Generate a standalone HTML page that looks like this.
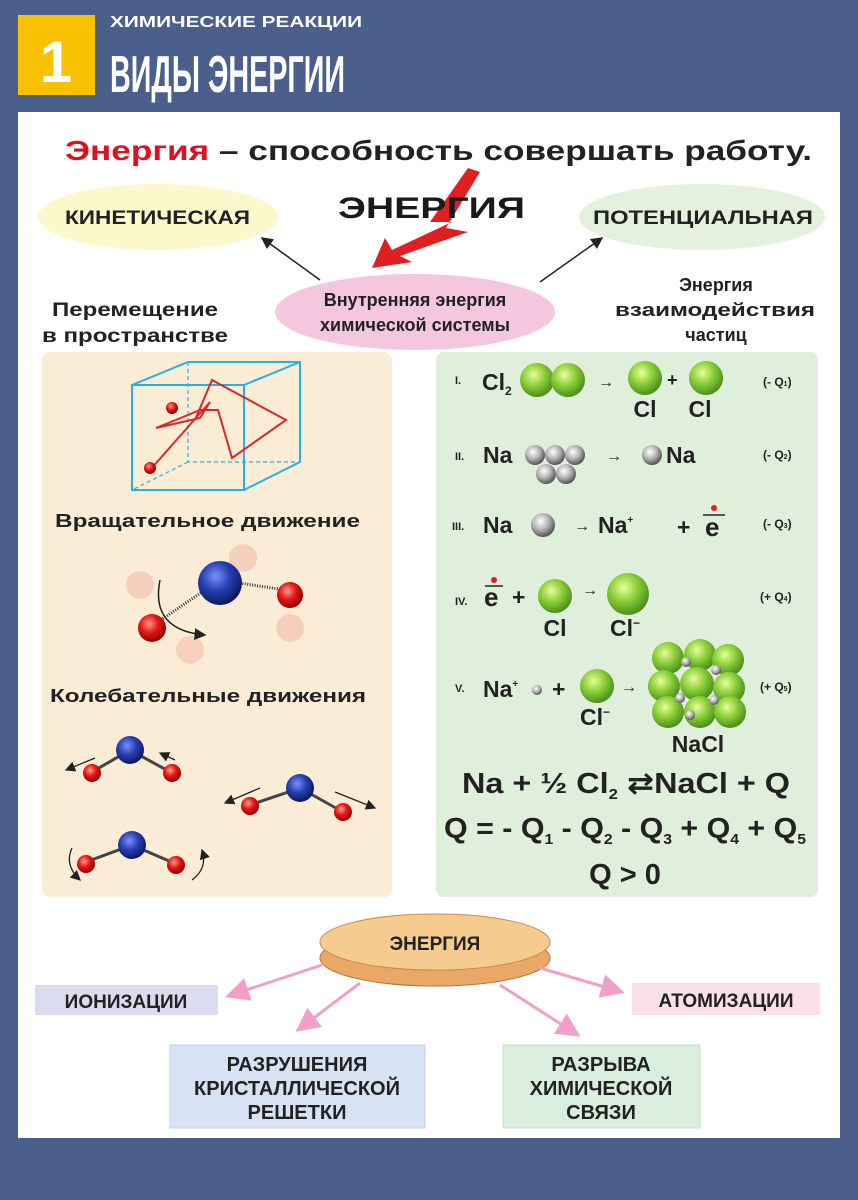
<!DOCTYPE html>
<html><head><meta charset="utf-8"><style>
html,body{margin:0;padding:0;background:#4a5f8c}
svg{display:block}
text{font-family:"Liberation Sans","DejaVu Sans",sans-serif;font-weight:bold;fill:#222}
</style></head><body>
<svg width="858" height="1200" viewBox="0 0 858 1200" xmlns="http://www.w3.org/2000/svg">
<defs>
<radialGradient id="g" cx="40%" cy="35%" r="65%"><stop offset="0" stop-color="#e8ff9a"/><stop offset="0.5" stop-color="#8ccf3a"/><stop offset="1" stop-color="#4c8f1c"/></radialGradient>
<radialGradient id="s" cx="40%" cy="35%" r="65%"><stop offset="0" stop-color="#ffffff"/><stop offset="0.5" stop-color="#b8b8b8"/><stop offset="1" stop-color="#555"/></radialGradient>
<radialGradient id="r" cx="40%" cy="35%" r="65%"><stop offset="0" stop-color="#ff9a8a"/><stop offset="0.5" stop-color="#e01818"/><stop offset="1" stop-color="#900"/></radialGradient>
<radialGradient id="b" cx="40%" cy="35%" r="65%"><stop offset="0" stop-color="#7a90ff"/><stop offset="0.5" stop-color="#2840b0"/><stop offset="1" stop-color="#0c1a60"/></radialGradient>
<marker id="ah" markerWidth="8" markerHeight="8" refX="7" refY="4" orient="auto"><path d="M0,0 L8,4 L0,8 z" fill="#222"/></marker>
<marker id="ap" markerWidth="8" markerHeight="8" refX="7" refY="4" orient="auto"><path d="M0,0 L8,4 L0,8 z" fill="#f0a0c8"/></marker>
</defs>
<rect width="858" height="1200" fill="#4a5f8c"/>
<rect x="18" y="15" width="77" height="80" fill="#f8c200"/>
<text x="56" y="82" text-anchor="middle" font-size="58" style="fill:#fff">1</text>
<text x="110" y="27" font-size="16" style="fill:#fff" textLength="252" lengthAdjust="spacingAndGlyphs">ХИМИЧЕСКИЕ РЕАКЦИИ</text>
<text x="110" y="92" font-size="52" style="fill:#fff" textLength="235" lengthAdjust="spacingAndGlyphs">ВИДЫ ЭНЕРГИИ</text>
<rect x="18" y="112" width="822" height="1026" fill="#fff"/>
<text x="65" y="160" font-size="28" textLength="747" lengthAdjust="spacingAndGlyphs"><tspan style="fill:#e01020">Энергия</tspan> – способность совершать работу.</text>
<ellipse cx="158" cy="217" rx="120" ry="33" fill="#fbf8cc"/>
<text x="65" y="224" font-size="19" textLength="185" lengthAdjust="spacingAndGlyphs">КИНЕТИЧЕСКАЯ</text>
<ellipse cx="702" cy="217" rx="123" ry="33" fill="#e4f1dc"/>
<text x="593" y="224" font-size="19" textLength="220" lengthAdjust="spacingAndGlyphs">ПОТЕНЦИАЛЬНАЯ</text>
<polygon points="468,168 430,222 452,222 392,250 385,238 372,268 412,262 400,256 468,232 446,228 480,172" fill="#e02020"/>
<text x="338" y="218" font-size="30" style="fill:#1a1a1a" textLength="187" lengthAdjust="spacingAndGlyphs">ЭНЕРГИЯ</text>
<line x1="320" y1="280" x2="262" y2="238" stroke="#222" stroke-width="1.5" marker-end="url(#ah)"/>
<line x1="540" y1="282" x2="602" y2="238" stroke="#222" stroke-width="1.5" marker-end="url(#ah)"/>
<ellipse cx="415" cy="312" rx="140" ry="38" fill="#f4c7de"/>
<text x="415" y="306" text-anchor="middle" font-size="18">Внутренняя энергия</text>
<text x="415" y="331" text-anchor="middle" font-size="18">химической системы</text>
<text x="52" y="316" font-size="19" textLength="166" lengthAdjust="spacingAndGlyphs">Перемещение</text>
<text x="42" y="342" font-size="19" textLength="186" lengthAdjust="spacingAndGlyphs">в пространстве</text>
<text x="716" y="291" text-anchor="middle" font-size="18">Энергия</text>
<text x="615" y="316" font-size="18" textLength="200" lengthAdjust="spacingAndGlyphs">взаимодействия</text>
<text x="716" y="341" text-anchor="middle" font-size="18">частиц</text>
<rect x="42" y="352" width="350" height="545" rx="8" fill="#fbecd6"/>
<rect x="436" y="352" width="382" height="545" rx="8" fill="#e0eedc"/>
<g fill="none" stroke="#28b0e0" stroke-width="2">
<rect x="132" y="385" width="112" height="105"/>
<polyline points="132,385 188,362 300,362 300,462 244,490"/>
<line x1="244" y1="385" x2="300" y2="362"/>
<g stroke-dasharray="4 3" stroke-width="1.2"><polyline points="188,362 188,462 300,462"/><line x1="188" y1="462" x2="132" y2="490"/></g>
</g>
<polyline points="150,470 210,402 200,418 156,428 188,415 200,410 218,410 232,458 286,420 212,380 195,420" fill="none" stroke="#d82828" stroke-width="2"/>
<circle cx="172" cy="408" r="6" fill="url(#r)"/><circle cx="150" cy="468" r="6" fill="url(#r)"/>
<text x="55" y="527" font-size="18" textLength="305" lengthAdjust="spacingAndGlyphs">Вращательное движение</text>
<g opacity="0.15"><circle cx="243" cy="558" r="14" fill="#e03030"/><circle cx="140" cy="585" r="14" fill="#e03030"/><circle cx="290" cy="628" r="14" fill="#e03030"/><circle cx="190" cy="650" r="14" fill="#e03030"/></g>
<line x1="220" y1="580" x2="285" y2="590" stroke="#333" stroke-width="3" stroke-dasharray="1 1.5"/>
<line x1="205" y1="590" x2="158" y2="622" stroke="#333" stroke-width="3" stroke-dasharray="1 1.5"/>
<path d="M160,580 Q150,630 205,635" fill="none" stroke="#222" stroke-width="1.5" marker-end="url(#ah)"/>
<circle cx="220" cy="583" r="22" fill="url(#b)"/>
<circle cx="290" cy="595" r="13" fill="url(#r)"/>
<circle cx="152" cy="628" r="14" fill="url(#r)"/>
<text x="50" y="702" font-size="18" textLength="316" lengthAdjust="spacingAndGlyphs">Колебательные движения</text>
<g stroke="#444" stroke-width="3">
<line x1="130" y1="750" x2="92" y2="772"/><line x1="130" y1="750" x2="172" y2="773"/>
<line x1="300" y1="788" x2="250" y2="805"/><line x1="300" y1="788" x2="343" y2="812"/>
<line x1="132" y1="845" x2="86" y2="862"/><line x1="132" y1="845" x2="176" y2="864"/>
</g>
<g fill="url(#b)"><circle cx="130" cy="750" r="14"/><circle cx="300" cy="788" r="14"/><circle cx="132" cy="845" r="14"/></g>
<g fill="url(#r)"><circle cx="92" cy="773" r="9"/><circle cx="172" cy="773" r="9"/><circle cx="250" cy="806" r="9"/><circle cx="343" cy="812" r="9"/><circle cx="86" cy="864" r="9"/><circle cx="176" cy="865" r="9"/></g>
<g stroke="#222" stroke-width="1.3" fill="none" marker-end="url(#ah)">
<line x1="95" y1="758" x2="66" y2="770"/><line x1="175" y1="760" x2="160" y2="753"/>
<line x1="260" y1="788" x2="225" y2="803"/><line x1="335" y1="792" x2="375" y2="808"/>
<path d="M72,848 Q64,865 80,880"/><path d="M192,880 Q208,868 202,850"/>
</g>
<g font-size="23">
<text x="455" y="384" font-size="11">I.</text>
<text x="482" y="390">Cl<tspan font-size="12" dy="5">2</tspan></text>
<circle cx="537" cy="380" r="17" fill="url(#g)"/><circle cx="568" cy="380" r="17" fill="url(#g)"/>
<text x="598" y="387" font-size="16">→</text>
<circle cx="645" cy="378" r="17" fill="url(#g)"/><text x="667" y="386" font-size="18">+</text><circle cx="706" cy="378" r="17" fill="url(#g)"/>
<text x="645" y="417" text-anchor="middle">Cl</text><text x="700" y="417" text-anchor="middle">Cl</text>
<text x="763" y="386" font-size="12">(- Q<tspan font-size="7">1</tspan>)</text>
<text x="455" y="460" font-size="11">II.</text>
<text x="483" y="463">Na</text>
<g fill="url(#s)"><circle cx="535" cy="455" r="10"/><circle cx="555" cy="455" r="10"/><circle cx="575" cy="455" r="10"/><circle cx="546" cy="474" r="10"/><circle cx="566" cy="474" r="10"/></g>
<text x="606" y="461" font-size="16">→</text>
<circle cx="652" cy="455" r="10" fill="url(#s)"/>
<text x="666" y="463">Na</text>
<text x="763" y="459" font-size="12">(- Q<tspan font-size="7">2</tspan>)</text>
<text x="452" y="530" font-size="11">III.</text>
<text x="483" y="533">Na</text>
<circle cx="543" cy="525" r="12" fill="url(#s)"/>
<text x="574" y="531" font-size="16">→</text>
<text x="598" y="533">Na<tspan font-size="10" dy="-10">+</tspan></text>
<text x="677" y="535">+</text>
<line x1="703" y1="515" x2="725" y2="515" stroke="#222" stroke-width="1.5"/><circle cx="714" cy="508" r="3" fill="#e02020"/>
<text x="705" y="536" font-size="26">e</text>
<text x="763" y="528" font-size="12">(- Q<tspan font-size="7">3</tspan>)</text>
<text x="455" y="605" font-size="11">IV.</text>
<line x1="485" y1="586" x2="503" y2="586" stroke="#222" stroke-width="1.5"/><circle cx="494" cy="580" r="3" fill="#e02020"/>
<text x="484" y="606" font-size="26">e</text>
<text x="512" y="605">+</text>
<circle cx="555" cy="596" r="17" fill="url(#g)"/>
<text x="582" y="595" font-size="16">→</text>
<circle cx="628" cy="594" r="21" fill="url(#g)"/>
<text x="555" y="636" text-anchor="middle">Cl</text>
<text x="610" y="636">Cl<tspan font-size="12" dy="-9">−</tspan></text>
<text x="760" y="601" font-size="12">(+ Q<tspan font-size="7">4</tspan>)</text>
<text x="455" y="692" font-size="11">V.</text>
<text x="483" y="697">Na<tspan font-size="10" dy="-10">+</tspan></text>
<circle cx="537" cy="690" r="5" fill="url(#s)"/>
<text x="552" y="697">+</text>
<circle cx="597" cy="686" r="17" fill="url(#g)"/>
<text x="580" y="725">Cl<tspan font-size="12" dy="-9">−</tspan></text>
<text x="621" y="692" font-size="16">→</text>
<g fill="url(#g)">
<circle cx="668" cy="658" r="16"/><circle cx="700" cy="655" r="16"/><circle cx="728" cy="660" r="16"/>
<circle cx="664" cy="686" r="16"/><circle cx="697" cy="684" r="17"/><circle cx="729" cy="688" r="16"/>
<circle cx="668" cy="712" r="16"/><circle cx="700" cy="712" r="16"/><circle cx="730" cy="712" r="16"/>
</g>
<g fill="url(#s)"><circle cx="686" cy="662" r="5"/><circle cx="716" cy="670" r="5"/><circle cx="680" cy="698" r="5"/><circle cx="714" cy="700" r="5"/><circle cx="690" cy="715" r="5"/></g>
<text x="698" y="752" text-anchor="middle">NaCl</text>
<text x="760" y="691" font-size="12">(+ Q<tspan font-size="7">5</tspan>)</text>
</g>
<g font-size="29">
<text x="462" y="793" textLength="328" lengthAdjust="spacingAndGlyphs">Na + ½ Cl<tspan font-size="15" dy="6">2</tspan><tspan dy="-6"> ⇄NaCl + Q</tspan></text>
<text x="444" y="838" textLength="362" lengthAdjust="spacingAndGlyphs">Q = - Q<tspan font-size="15" dy="6">1</tspan><tspan dy="-6"> - Q</tspan><tspan font-size="15" dy="6">2</tspan><tspan dy="-6"> - Q</tspan><tspan font-size="15" dy="6">3</tspan><tspan dy="-6"> + Q</tspan><tspan font-size="15" dy="6">4</tspan><tspan dy="-6"> + Q</tspan><tspan font-size="15" dy="6">5</tspan></text>
<text x="625" y="884" text-anchor="middle">Q &gt; 0</text>
</g>
<ellipse cx="435" cy="958" rx="115" ry="28" fill="#e9a868" stroke="#c07030"/>
<ellipse cx="435" cy="942" rx="115" ry="28" fill="#f5cb90" stroke="#d08a48"/>
<text x="435" y="950" text-anchor="middle" font-size="19">ЭНЕРГИЯ</text>
<g stroke="#f0a0c8" stroke-width="3" marker-end="url(#ap)">
<line x1="322" y1="965" x2="228" y2="996"/><line x1="540" y1="968" x2="622" y2="992"/>
<line x1="360" y1="983" x2="298" y2="1030"/><line x1="500" y1="985" x2="578" y2="1035"/>
</g>
<rect x="35" y="985" width="183" height="30" fill="#dcdcf0"/>
<text x="126" y="1008" text-anchor="middle" font-size="19">ИОНИЗАЦИИ</text>
<rect x="632" y="983" width="188" height="32" fill="#fbe0ec"/>
<text x="726" y="1007" text-anchor="middle" font-size="19">АТОМИЗАЦИИ</text>
<rect x="170" y="1045" width="255" height="83" fill="#d7e2f4" stroke="#c4d0e8"/>
<text x="297" y="1071" text-anchor="middle" font-size="20">РАЗРУШЕНИЯ</text>
<text x="297" y="1095" text-anchor="middle" font-size="20">КРИСТАЛЛИЧЕСКОЙ</text>
<text x="297" y="1119" text-anchor="middle" font-size="20">РЕШЕТКИ</text>
<rect x="503" y="1045" width="197" height="83" fill="#d9eedd" stroke="#c4e0c8"/>
<text x="601" y="1071" text-anchor="middle" font-size="20">РАЗРЫВА</text>
<text x="601" y="1095" text-anchor="middle" font-size="20">ХИМИЧЕСКОЙ</text>
<text x="601" y="1119" text-anchor="middle" font-size="20">СВЯЗИ</text>
</svg>
</body></html>
